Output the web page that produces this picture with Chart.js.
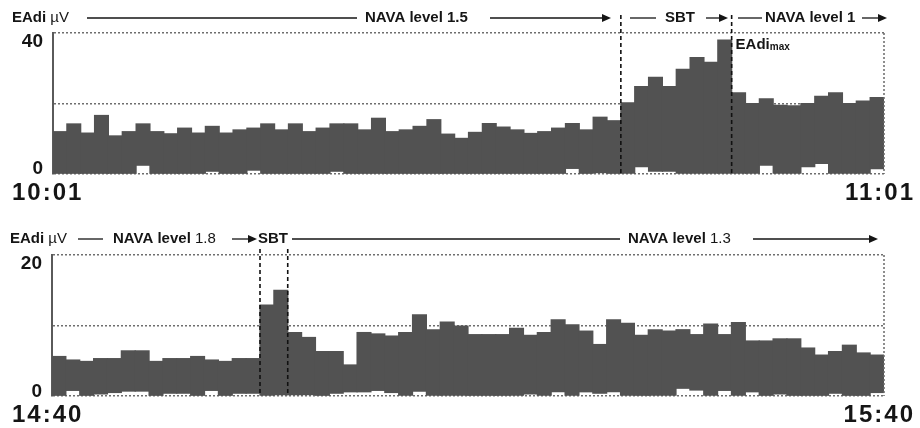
<!DOCTYPE html>
<html><head><meta charset="utf-8">
<script src="https://cdn.jsdelivr.net/npm/chart.js@4/dist/chart.umd.min.js"></script>
<style>
html,body{margin:0;padding:0;background:#fff;}
#wrap{position:relative;width:920px;height:428px;overflow:hidden;background:#fff;}
canvas{position:absolute;left:0;}
</style></head><body>
<div id="wrap">
<canvas id="c1" width="920" height="214" style="top:0px"></canvas>
<canvas id="c2" width="920" height="214" style="top:214px"></canvas>
</div>
<script>
// ---------- DATA ----------
// Top panel: EAdi (µV) per minute, 10:01 - 11:01
const topMax = [
  12.0, 14.2, 11.6, 16.6, 10.8, 12.0, 14.2, 12.0, 11.4, 13.0,
  11.6, 13.5, 11.6, 12.5, 13.0, 14.2, 12.5, 14.2, 12.0, 13.0,
  14.2, 14.2, 12.5, 15.8, 12.0, 12.5, 13.5, 15.4, 11.3, 10.1,
  11.8, 14.3, 13.3, 12.5, 11.5, 12.0, 13.0, 14.3, 12.5, 16.1,
  15.1, 20.2, 24.8, 27.4, 24.8, 29.7, 33.0, 31.7, 38.0, 23.0,
  20.0, 21.3, 19.5, 19.3, 20.0, 22.0, 23.0, 20.0, 20.7, 21.7
];
const topMin = [
  0, 0, 0, 0, 0, 0, 2.5, 0, 0, 0,
  0, 0.8, 0, 0, 1.1, 0, 0, 0, 0, 0,
  0.8, 0, 0, 0, 0, 0, 0, 0, 0, 0,
  0, 0, 0, 0, 0, 0, 0, 1.6, 0, 0.4,
  0, 0, 2.1, 0.8, 0.8, 0, 0, 0, 0, 0,
  0, 2.5, 0, 0, 2.1, 3.0, 0, 0, 0, 1.5
];
// Bottom panel: EAdi (µV) per minute, 14:40 - 15:40
const bottomMax = [
  5.6, 5.1, 4.9, 5.3, 5.3, 6.4, 6.4, 4.9, 5.3, 5.3,
  5.6, 5.1, 4.9, 5.3, 5.3, 12.9, 15.0, 9.0, 8.3, 6.3,
  6.3, 4.4, 9.0, 8.8, 8.5, 9.0, 11.5, 9.4, 10.5, 9.9,
  8.7, 8.7, 8.7, 9.6, 8.6, 9.0, 10.8, 10.1, 9.2, 7.3,
  10.8, 10.3, 8.6, 9.4, 9.2, 9.4, 8.7, 10.2, 8.7, 10.4,
  7.8, 7.8, 8.1, 8.1, 6.8, 5.8, 6.3, 7.2, 6.1, 5.8
];
const bottomMin = [
  0, 0.8, 0, 0.3, 0.5, 0.7, 0.7, 0, 0.4, 0.4,
  0, 0.8, 0, 0.4, 0.4, 0, 0.2, 0.2, 0.2, 0,
  0.4, 0.6, 0.6, 0.8, 0.5, 0, 0.7, 0, 0, 0,
  0, 0, 0, 0, 0.3, 0, 0.6, 0, 0.6, 0.4,
  0.6, 0, 0, 0, 0, 1.1, 0.85, 0, 0.8, 0,
  0.6, 0, 0.3, 0, 0, 0, 0.4, 0, 0, 0.5
];
const topStartTime = '10:01';
const bottomStartTime = '14:40';
const minutesPerPanel = 60;
const topYTicks = [0, 40];
const bottomYTicks = [0, 20];
const topTimeLabels = ['10:01', '11:01'];
const bottomTimeLabels = ['14:40', '15:40'];
const topPhaseStarts = [41, 49];      // SBT start, NAVA level 1 start (minute index)
const bottomPhaseStarts = [15, 17];   // SBT start, NAVA level 1.3 start
const topHeader = {
  unit: [['EAdi', true], [' µV', false]],
  phase1: [['NAVA level 1.5', true]],
  phase2: [['SBT', true]],
  phase3: [['NAVA level 1', true]],
  peak: 'EAdi', peakSub: 'max'
};
const bottomHeader = {
  unit: [['EAdi', true], [' µV', false]],
  phase1: [['NAVA level', true], [' 1.8', false]],
  phase2: [['SBT', true]],
  phase3: [['NAVA level', true], [' 1.3', false]]
};

function minuteLabels(start, n) {
  const [h, m] = start.split(':').map(Number);
  const out = [];
  for (let k = 0; k < n; k++) {
    const t = h * 60 + m + k;
    out.push(Math.floor(t / 60) + ':' + String(t % 60).padStart(2, '0'));
  }
  return out;
}
const topCategories = minuteLabels(topStartTime, minutesPerPanel);
const bottomCategories = minuteLabels(bottomStartTime, minutesPerPanel);

// ---------- DRAWING HELPERS ----------
const FONT = '"Liberation Sans", Arial, Helvetica, sans-serif';
const INK = '#151515';

function rich(ctx, x, yMid, parts, size) {
  ctx.textBaseline = 'middle';
  ctx.textAlign = 'left';
  let cx = x;
  parts.forEach(([t, b]) => {
    ctx.font = (b ? 'bold ' : '') + size + 'px ' + FONT;
    ctx.fillText(t, cx, yMid);
    cx += ctx.measureText(t).width;
  });
  return cx;
}
function hline(ctx, x1, x2, y) {
  ctx.beginPath(); ctx.moveTo(x1, y); ctx.lineTo(x2, y); ctx.stroke();
}
function arrow(ctx, x1, x2, y) {
  ctx.beginPath(); ctx.moveTo(x1, y); ctx.lineTo(x2 - 6, y); ctx.stroke();
  ctx.beginPath(); ctx.moveTo(x2, y); ctx.lineTo(x2 - 9, y - 4); ctx.lineTo(x2 - 9, y + 4); ctx.closePath(); ctx.fill();
}
function timeText(ctx, text, x, y, align) {
  ctx.font = 'bold 24px ' + FONT;
  try { ctx.letterSpacing = '2px'; } catch (e) {}
  ctx.textBaseline = 'alphabetic';
  ctx.textAlign = 'left';
  const w = ctx.measureText(text).width;
  ctx.fillText(text, align === 'right' ? x - w : x, y);
  try { ctx.letterSpacing = '0px'; } catch (e) {}
}

function makeOverlay(cfg) {
  return {
    id: 'overlay_' + cfg.name,
    afterDraw(chart) {
      const ctx = chart.ctx, ca = chart.chartArea;
      const xs = chart.scales.x, ys = chart.scales.y;
      ctx.save();
      // right dotted border
      ctx.strokeStyle = '#6a6a6a'; ctx.lineWidth = 1.5; ctx.setLineDash([2, 2]);
      ctx.beginPath(); ctx.moveTo(ca.right, ca.top); ctx.lineTo(ca.right, ca.bottom); ctx.stroke();
      // phase boundaries (dashed verticals)
      ctx.strokeStyle = '#111'; ctx.lineWidth = 1.6; ctx.setLineDash([4, 3]);
      cfg.phases.forEach(i => {
        const px = (xs.getPixelForValue(i - 1) + xs.getPixelForValue(i)) / 2;
        ctx.beginPath(); ctx.moveTo(px, cfg.phaseTop); ctx.lineTo(px, ca.bottom); ctx.stroke();
      });
      ctx.setLineDash([]);
      // y tick labels
      ctx.fillStyle = INK;
      ctx.font = 'bold 19px ' + FONT;
      ctx.textAlign = 'right'; ctx.textBaseline = 'alphabetic';
      cfg.yTicks.forEach(v => {
        const py = ys.getPixelForValue(v);
        ctx.fillText(String(v), ca.left - 10, v === 0 ? py + cfg.zeroOff : py + 14);
      });
      // time labels
      timeText(ctx, cfg.times[0], 12, ca.bottom + 26, 'left');
      timeText(ctx, cfg.times[1], 915, ca.bottom + 26, 'right');
      // header
      ctx.strokeStyle = INK; ctx.fillStyle = INK; ctx.lineWidth = 1.3;
      cfg.header(ctx, xs, ca);
      ctx.restore();
    }
  };
}

function makeChart(id, cats, maxs, mins, yMax, axisW, padding, overlay) {
  return new Chart(document.getElementById(id), {
    type: 'bar',
    data: {
      labels: cats,
      datasets: [{
        data: maxs.map((v, i) => [mins[i], v]),
        backgroundColor: '#525252',
        borderWidth: 0,
        inflateAmount: 0.6,
        barPercentage: 1,
        categoryPercentage: 1
      }]
    },
    options: {
      responsive: false, animation: false, devicePixelRatio: 1,
      layout: { padding },
      plugins: { legend: { display: false }, tooltip: { enabled: false } },
      scales: {
        x: { display: false },
        y: {
          min: 0, max: yMax,
          ticks: { display: false, stepSize: yMax / 2 },
          afterFit(s) { s.width = axisW; },
          grid: { drawTicks: false, color: '#6e6e6e', lineWidth: 1.5 },
          border: { display: true, color: '#5a5a5a', width: 2, dash: [2, 2] }
        }
      }
    },
    plugins: [overlay]
  });
}

// ---------- TOP PANEL ----------
const topOverlay = makeOverlay({
  name: 'top', phases: topPhaseStarts, yTicks: topYTicks, times: topTimeLabels, phaseTop: 15, zeroOff: 0,
  header(ctx, xs, ca) {
    const y = 18, fs = 15;
    rich(ctx, 12, y, topHeader.unit, fs);
    hline(ctx, 87, 357, y);
    rich(ctx, 365, y, topHeader.phase1, fs);
    arrow(ctx, 490, 611, y);
    hline(ctx, 630, 656, y);
    rich(ctx, 665, y, topHeader.phase2, fs);
    arrow(ctx, 706, 728, y);
    hline(ctx, 738, 762, y);
    rich(ctx, 765, y, topHeader.phase3, fs);
    arrow(ctx, 862, 887, y);
    // EAdi max label next to peak
    ctx.textAlign = 'left'; ctx.textBaseline = 'alphabetic';
    ctx.font = 'bold 15px ' + FONT;
    const px = xs.getPixelForValue(topPhaseStarts[1]) - 3;
    ctx.fillText(topHeader.peak, px, 49);
    const w = ctx.measureText(topHeader.peak).width;
    ctx.font = 'bold 10px ' + FONT;
    ctx.fillText(topHeader.peakSub, px + w, 50);
  }
});
makeChart('c1', topCategories, topMax, topMin, 40, 53, { left: 0, right: 36, top: 33, bottom: 40 }, topOverlay);

// ---------- BOTTOM PANEL ----------
const bottomOverlay = makeOverlay({
  name: 'bottom', phases: bottomPhaseStarts, yTicks: bottomYTicks, times: bottomTimeLabels, phaseTop: 35, zeroOff: 1,
  header(ctx, xs, ca) {
    const y = 25, fs = 15;
    rich(ctx, 10, y, bottomHeader.unit, fs);
    hline(ctx, 78, 103, y);
    rich(ctx, 113, y, bottomHeader.phase1, fs);
    arrow(ctx, 232, 257, y);
    rich(ctx, 258, y, bottomHeader.phase2, fs);
    hline(ctx, 292, 620, y);
    rich(ctx, 628, y, bottomHeader.phase3, fs);
    arrow(ctx, 753, 878, y);
  }
});
makeChart('c2', bottomCategories, bottomMax, bottomMin, 20, 52, { left: 0, right: 36, top: 41, bottom: 32 }, bottomOverlay);
</script>
</body></html>
